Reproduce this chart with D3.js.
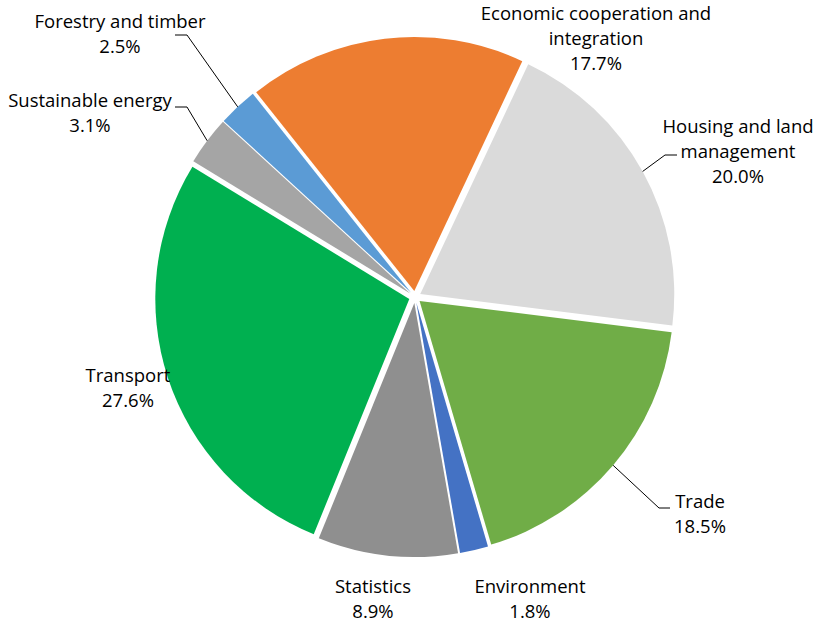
<!DOCTYPE html>
<html>
<head>
<meta charset="utf-8">
<script src="https://cdn.jsdelivr.net/npm/d3@7"></script>
<style>
  body { margin: 0; background: #fff; }
  text { font-family: "Open Sans", Lato, sans-serif; font-size: 18.5px; fill: #000; }
</style>
</head>
<body>
<div id="chart"></div>
<script>
// data, clockwise from the Economic cooperation slice
var names = ["Economic cooperation and integration", "Housing and land management", "Trade",
             "Environment", "Statistics", "Transport", "Sustainable energy", "Forestry and timber"];
var shares = [17.7, 20.0, 18.5, 1.8, 8.9, 27.6, 3.1, 2.5];
var labelLines = [["Economic cooperation and", "integration", "17.7%"],
                  ["Housing and land", "management", "20.0%"],
                  ["Trade", "18.5%"],
                  ["Environment", "1.8%"],
                  ["Statistics", "8.9%"],
                  ["Transport", "27.6%"],
                  ["Sustainable energy", "3.1%"],
                  ["Forestry and timber", "2.5%"]];
var colors = ["#ED7D31", "#DADADA", "#70AD47", "#4472C4", "#8F8F8F", "#00B050", "#A5A5A5", "#5B9BD5"];

// layout of labels (first-line baseline centre) and leader elbows [elbowX, y, endX]
var labelPos = [[596, 20], [738, 133], [700, 508], [530, 593], [373, 593], [128, 382], [90, 107], [120, 28]];
var elbows = [null, [665, 155, 677], [659, 508, 670], null, null, null, [187, 107, 175], [187, 35, 175]];

var width = 814, height = 625;
var cx = 415, cy = 297, radius = 254, explode = 6;

var svg = d3.select("#chart").append("svg")
    .attr("width", width).attr("height", height);

var pie = d3.pie().sort(null).value(function(d){ return d; })
    .startAngle(-38.5 * Math.PI / 180)
    .endAngle(321.5 * Math.PI / 180);
var arcs = pie(shares);
var arc = d3.arc().innerRadius(0).outerRadius(radius);

var g = svg.append("g").attr("transform", "translate(" + cx + "," + cy + ")");

g.selectAll("path")
    .data(arcs)
    .enter()
    .append("path")
    .attr("d", arc)
    .attr("fill", function(d, i){ return colors[i]; })
    .attr("transform", function(d){
        var a = (d.startAngle + d.endAngle) / 2;
        return "translate(" + (explode * Math.sin(a)) + "," + (-explode * Math.cos(a)) + ")";
    });

// leader lines
arcs.forEach(function(d, i){
    if (!elbows[i]) return;
    var a = (d.startAngle + d.endAngle) / 2,
        r = radius + explode;
    var x0 = cx + r * Math.sin(a), y0 = cy - r * Math.cos(a);
    svg.append("polyline")
        .attr("points", [[x0, y0], [elbows[i][0], elbows[i][1]], [elbows[i][2], elbows[i][1]]].join(" "))
        .attr("fill", "none")
        .attr("stroke", "#000")
        .attr("stroke-width", 1);
});

// labels
labelLines.forEach(function(lines, i){
    var t = svg.append("text")
        .attr("text-anchor", "middle")
        .attr("x", labelPos[i][0])
        .attr("y", labelPos[i][1]);
    lines.forEach(function(s, j){
        t.append("tspan")
            .attr("x", labelPos[i][0])
            .attr("dy", j == 0 ? 0 : 25)
            .text(s);
    });
});
</script>
</body>
</html>
